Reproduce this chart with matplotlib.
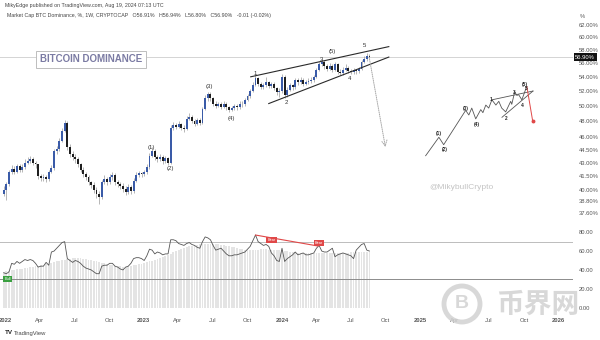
import numpy as np
import pandas as pd
import matplotlib
matplotlib.use('Agg')
import matplotlib.pyplot as plt
from matplotlib.patches import Ellipse
from matplotlib.ticker import NullLocator, FixedLocator, NullFormatter
import matplotlib.transforms as mtrans

plt.rcParams['font.family'] = ['Liberation Sans', 'DejaVu Sans']

# ---------------- data ----------------
start_date = '2021-12-27'   # first weekly candle (Monday)
first_open = 39.6
closes = [40.0, 40.6, 41.9, 42.3, 42.0, 42.6, 42.2, 42.5, 43.0, 43.2,
          43.4, 43.0, 42.8, 41.5, 41.3, 41.4, 41.2, 42.0, 42.4, 44.3,
          44.6, 45.6, 46.8, 47.8, 44.8, 44.0, 43.6, 43.4, 42.8, 42.2,
          41.7, 41.4, 40.8, 40.5, 40.0, 39.6, 39.3, 40.9, 41.2, 40.8,
          41.4, 41.6, 40.8, 40.6, 40.4, 40.1, 39.8, 40.3, 39.9, 41.0,
          41.6, 41.8, 41.7, 41.9, 42.5, 43.8, 44.4, 43.6, 43.4, 43.7,
          43.2, 43.5, 43.0, 47.2, 47.5, 47.3, 47.6, 47.2, 47.0, 48.3,
          48.6, 48.0, 47.7, 48.1, 47.8, 49.6, 51.0, 51.6, 51.0, 50.3,
          50.0, 50.2, 49.9, 50.3, 49.8, 49.5, 49.7, 50.0, 49.8, 50.3,
          50.2, 50.8, 51.3, 52.0, 52.9, 53.8, 53.0, 52.6, 52.8, 53.2,
          52.7, 53.0, 52.4, 51.8, 52.0, 54.0, 51.5, 52.2, 52.8, 52.5,
          53.5, 53.2, 53.5, 53.0, 53.3, 53.4, 53.6, 54.0, 55.0, 55.9,
          56.2, 55.6, 55.2, 55.5, 55.0, 55.8, 54.7, 54.5, 55.0, 55.3,
          54.9, 54.7, 55.0, 54.8, 55.1, 56.2, 56.6, 57.1, 56.9]
highs = [40.4, 40.9, 42.2, 42.7, 42.6, 42.9, 42.8, 42.8, 43.4, 43.7,
         43.8, 43.6, 43.2, 42.9, 41.7, 41.7, 41.6, 42.2, 42.7, 44.6,
         45.0, 45.9, 47.1, 48.1, 48.0, 45.2, 44.4, 44.0, 43.7, 43.0,
         42.5, 42.0, 41.6, 41.0, 40.8, 40.3, 39.9, 41.1, 41.6, 41.4,
         41.7, 42.0, 41.8, 41.1, 40.9, 40.7, 40.4, 40.6, 40.5, 41.3,
         41.9, 42.1, 42.0, 42.2, 42.8, 44.1, 44.8, 44.6, 43.9, 44.0,
         43.9, 43.8, 43.7, 47.5, 47.9, 47.8, 48.0, 47.8, 47.5, 48.7,
         49.0, 48.8, 48.3, 48.4, 48.4, 49.9, 51.5, 51.9, 51.8, 51.2,
         50.6, 50.5, 50.5, 50.6, 50.5, 50.0, 50.0, 50.3, 50.2, 50.6,
         50.6, 51.1, 51.6, 52.3, 53.2, 54.3, 54.0, 53.3, 53.1, 53.9,
         53.4, 53.3, 53.2, 52.6, 52.4, 54.4, 54.2, 52.5, 53.1, 53.0,
         53.8, 53.8, 53.9, 53.8, 53.6, 53.8, 54.0, 54.3, 55.3, 56.2,
         56.6, 56.4, 55.9, 56.0, 55.8, 56.1, 56.0, 55.1, 55.4, 55.8,
         55.5, 55.2, 55.3, 55.2, 55.4, 56.5, 57.0, 57.5, 57.3]
lows = [39.4, 38.9, 40.4, 41.7, 41.7, 41.8, 41.9, 42.0, 42.3, 42.8,
        43.0, 42.7, 42.4, 41.2, 41.0, 41.0, 40.9, 41.0, 41.8, 42.2,
        44.0, 44.4, 45.4, 46.6, 44.5, 43.7, 43.3, 43.0, 42.5, 41.9,
        41.4, 41.1, 40.5, 40.2, 39.7, 39.2, 38.5, 39.1, 40.6, 40.5,
        40.6, 41.1, 40.5, 40.3, 40.1, 39.8, 39.5, 39.6, 39.6, 39.7,
        40.8, 41.4, 41.4, 41.5, 41.7, 42.3, 43.6, 43.3, 43.1, 43.2,
        42.9, 43.0, 42.7, 42.9, 46.9, 47.0, 47.1, 46.9, 46.7, 46.9,
        48.1, 47.8, 47.4, 47.5, 47.5, 47.6, 49.4, 50.7, 50.7, 50.0,
        49.7, 49.8, 49.6, 49.7, 49.5, 49.2, 49.3, 49.5, 49.5, 49.6,
        49.9, 50.0, 50.6, 51.1, 51.8, 52.7, 52.7, 52.3, 52.3, 52.6,
        52.4, 52.4, 52.1, 51.4, 51.2, 51.7, 51.0, 51.2, 52.0, 52.2,
        52.3, 52.9, 53.0, 52.7, 52.8, 53.0, 53.1, 53.3, 53.8, 54.8,
        55.5, 55.2, 54.9, 55.0, 54.7, 54.8, 54.4, 54.2, 54.3, 54.8,
        54.6, 54.4, 54.4, 54.4, 54.6, 55.0, 56.0, 56.3, 56.8]
rsi = [37, 36, 38, 47, 46, 49, 47, 49, 51, 50,
       51, 50, 47, 43, 44, 44, 48, 45, 59, 60,
       63, 66, 69, 70, 52, 50, 48, 50, 49, 47,
       44, 42, 41, 40, 38, 36, 36, 44, 45, 45,
       47, 47, 44, 43, 41, 40, 43, 44, 47, 52,
       53, 53, 52, 50, 55, 62, 61, 57, 59, 58,
       56, 57, 57, 72, 72, 71, 68, 67, 66, 68,
       69, 67, 66, 64, 63, 70, 75, 74, 72, 66,
       61, 62, 63, 60, 57, 55, 55, 56, 56, 57,
       58, 59, 62, 65, 71, 77, 70, 68, 66, 67,
       65, 58, 55, 50, 49, 63, 49, 52, 54, 56,
       59, 56, 57, 58, 56, 56, 57, 58, 63, 66,
       60, 59, 59, 61, 63, 54, 56, 57, 58, 57,
       56, 55, 52, 61, 64, 67, 68, 61, 60]
rsi_ma = [38, 38.5, 39, 39.5, 40, 40.5, 41, 41.5, 42, 42.5,
          43, 43.5, 44, 44.5, 45, 45.5, 46, 46.5, 47, 48,
          49, 50, 50.5, 51, 51.5, 52, 52.3, 52.5, 52.5, 52.3,
          52, 51.5, 51, 50.5, 50, 49, 48, 47.5, 47, 46,
          45.5, 45, 44.5, 44, 44, 43.5, 43.5, 44, 44.5, 45,
          45.5, 46, 46.5, 47, 48, 49, 50, 51, 52, 53,
          54, 55, 56, 57, 58.5, 60, 61, 62, 63, 64,
          65, 65.5, 66, 66.5, 67, 67, 67.5, 67.5, 67.5, 67.5,
          67, 67, 66.5, 66, 65.5, 65, 64.5, 64, 63, 62.5,
          62, 61.5, 61, 61, 61, 61.5, 61.5, 62, 62, 62,
          61.5, 61.5, 61, 61, 61, 61, 60.5, 60, 59.5, 59,
          58.5, 58, 58, 57.5, 57.5, 57.5, 57.5, 57.5, 57.5, 57.5,
          57.5, 57.5, 57.5, 57.5, 57.5, 57.5, 58, 58, 58, 58,
          58, 58.5, 58.5, 58.5, 59, 59, 59, 59.5, 59.5]

last_price = 56.90
price_ticks = [62, 60, 58, 56, 54, 52, 50, 48, 46, 44.5, 43, 41.5, 40, 38.8, 37.6]
rsi_ticks = [80, 60, 40, 20, 0]
rsi_levels = [70, 30]
date_ticks = ['2022-01-01', '2022-04-01', '2022-07-01', '2022-10-01',
              '2023-01-01', '2023-04-01', '2023-07-01', '2023-10-01',
              '2024-01-01', '2024-04-01', '2024-07-01', '2024-10-01',
              '2025-01-01', '2025-04-01', '2025-07-01', '2025-10-01',
              '2026-01-01']
date_labels = ['2022', 'Apr', 'Jul', 'Oct', '2023', 'Apr', 'Jul', 'Oct',
               '2024', 'Apr', 'Jul', 'Oct', '2025', 'Apr', 'Jul', 'Oct', '2026']

# Elliott wave labels on the chart (week index, value)
wave_text = ['(1)', '(2)', '(3)', '(4)', '(5)', '1', '2', '3', '4', '5']
wave_weeks = [55.8, 62.8, 77.7, 85.7, 123.8, 95.0, 106.8, 120.0, 130.6, 136.2]
wave_vals = [44.8, 42.3, 52.6, 48.3, 57.7, 54.5, 50.4, 56.6, 53.8, 58.6]

# wedge trend lines (week index, value)
wedge_upper_weeks = [93.2, 145.3]
wedge_upper_vals = [54.0, 58.5]
wedge_lower_weeks = [100.0, 145.3]
wedge_lower_vals = [50.3, 56.9]
proj_weeks = [137.7, 144.2]
proj_vals = [57.3, 44.5]

# schematic (idealised wave count) on the right
sketch_weeks = [159.2, 164.2, 166.0, 174.3, 175.5, 176.6, 178.1, 180.0, 180.8,
                181.9, 183.0, 184.2, 185.7, 186.8, 187.9, 189.4, 191.3, 191.7,
                192.8, 193.6, 194.3, 195.5, 197.0, 197.4]
sketch_vals = [43.8, 46.0, 45.1, 49.4, 48.8, 49.7, 48.3, 49.5, 49.1,
               50.1, 49.7, 50.8, 50.1, 50.6, 49.7, 49.2, 50.6, 50.2,
               51.9, 51.4, 51.5, 50.8, 52.3, 52.6]
sketch_text = ['(1)', '(2)', '(3)', '(4)', '1', '2', '3', '4', '(5)', '5']
sketch_text_weeks = [164.2, 166.4, 174.3, 178.5, 183.8, 189.4, 192.5, 195.5, 196.6, 197.0]
sketch_text_vals = [46.5, 44.5, 49.7, 47.6, 50.9, 48.3, 51.8, 50.1, 52.9, 52.3]
sketch_up_weeks = [184.2, 199.7]
sketch_up_vals = [50.8, 52.0]
sketch_lo_weeks = [188.0, 199.7]
sketch_lo_vals = [48.5, 52.0]
sketch_drop_weeks = [197.4, 199.6]
sketch_drop_vals = [52.6, 48.0]

# RSI divergence
bear_weeks = [95.0, 118.5]
bear_vals = [77.0, 65.4]
bear_label_weeks = [101.0, 119.0]
bear_label_vals = [71.7, 68.9]
bull_week, bull_val = 1.5, 30.5

# ---------------- derived ----------------
start = pd.Timestamp(start_date)
n = len(closes)
wk = np.arange(n)
opens = [first_open] + closes[:-1]
o = np.array(opens); c = np.array(closes)
h = np.array(highs); l = np.array(lows)
up = c >= o

def week_of(d):
    return (pd.Timestamp(d) - start).days / 7.0

tick_pos = [week_of(d) for d in date_ticks]

W, H = 600, 340
fig = plt.figure(figsize=(6, 3.4), dpi=100)
fig.patch.set_facecolor('white')

xlim = (-1.4, 214.8)
ax1 = fig.add_axes([0, 1 - 222 / H, 573 / W, 222 / H])
ax2 = fig.add_axes([0, 1 - 312 / H, 573 / W, 88 / H], sharex=ax1)

# ---- price pane ----
ax1.set_yscale('log')
ax1.set_ylim(36.74, 66.2)
ax1.set_xlim(*xlim)
up_col, dn_col = '#3a5ba8', '#1f1f1f'
colors = np.where(up, up_col, dn_col)
ax1.vlines(wk, l, h, colors='#9a9a9a', lw=0.5, zorder=2)
body_lo = np.minimum(o, c)
body_h = np.maximum(np.abs(c - o), 0.1)
ax1.bar(wk, body_h, bottom=body_lo, width=0.72, color=colors, linewidth=0, zorder=3)

ax1.axhline(last_price, color='#d4d4d4', lw=0.7, zorder=1)

ax1.plot(wedge_upper_weeks, wedge_upper_vals, color='#2a2a2a', lw=0.8, zorder=4)
ax1.plot(wedge_lower_weeks, wedge_lower_vals, color='#2a2a2a', lw=0.8, zorder=4)
ax1.annotate('', xy=(proj_weeks[1], proj_vals[1]), xytext=(proj_weeks[0], proj_vals[0]),
             arrowprops=dict(arrowstyle='->', color='#a8a8a8', lw=0.7, ls=(0, (1, 1.2))),
             zorder=4)
for t, xw, yv in zip(wave_text, wave_weeks, wave_vals):
    ax1.text(xw, yv, t, fontsize=4.3, color='#333333', ha='center', va='center', zorder=5)

# schematic
ax1.plot(sketch_weeks, sketch_vals, color='#555555', lw=0.6, zorder=4)
ax1.plot(sketch_up_weeks, sketch_up_vals, color='#555555', lw=0.6, zorder=4)
ax1.plot(sketch_lo_weeks, sketch_lo_vals, color='#555555', lw=0.6, zorder=4)
ax1.plot(sketch_drop_weeks, sketch_drop_vals, color='#e04848', lw=0.7, zorder=4)
ax1.plot(sketch_drop_weeks[1:], sketch_drop_vals[1:], 'o', color='#e04848', ms=1.8, zorder=5)
for t, xw, yv in zip(sketch_text, sketch_text_weeks, sketch_text_vals):
    ax1.text(xw, yv, t, fontsize=3.4, color='#222222', ha='center', va='center',
             fontweight='bold', zorder=5)

ax1.yaxis.tick_right()
ax1.yaxis.set_major_locator(FixedLocator(price_ticks))
ax1.yaxis.set_minor_locator(NullLocator())
ax1.yaxis.set_minor_formatter(NullFormatter())
ax1.set_yticklabels([f'{v:.2f}%' for v in price_ticks])
ax1.tick_params(axis='y', length=0, pad=4, labelsize=4.2, labelcolor='#555555')
ax1.tick_params(axis='x', length=0, labelbottom=False)
for s in ax1.spines.values():
    s.set_visible(False)

trans = mtrans.blended_transform_factory(ax1.transAxes, ax1.transData)
ax1.text(1.004, last_price, f'{last_price:.2f}%', transform=trans, fontsize=4.2,
         color='white', ha='left', va='center', zorder=10,
         bbox=dict(boxstyle='square,pad=0.25', fc='#111111', ec='none'))
ax1.text(1.012, 63.3, '%', transform=trans, fontsize=4.2, color='#555555',
         ha='left', va='center')

# ---- RSI pane ----
ax2.set_ylim(-4.6, 88.7)
ax2.bar(wk, rsi_ma, width=0.7, color='#e4e4e4', linewidth=0, zorder=1)
ax2.plot(wk, rsi, color='#555555', lw=0.6, zorder=3)
ax2.axhline(rsi_levels[0], color='#bcbcbc', lw=0.7, zorder=2)
ax2.axhline(rsi_levels[1], color='#8c8c8c', lw=0.7, zorder=2)
ax2.plot(bear_weeks, bear_vals, color='#e04848', lw=0.8, zorder=4)
for xw, yv in zip(bear_label_weeks, bear_label_vals):
    ax2.text(xw, yv, 'Bear', fontsize=2.8, color='white', ha='center', va='center', zorder=6,
             bbox=dict(boxstyle='square,pad=0.3', fc='#e04848', ec='none'))
ax2.text(bull_week, bull_val, 'Bull', fontsize=2.8, color='white', ha='center', va='center',
         zorder=6, bbox=dict(boxstyle='square,pad=0.3', fc='#3aa040', ec='none'))

ax2.yaxis.tick_right()
ax2.set_yticks(rsi_ticks)
ax2.set_yticklabels([f'{v:.2f}' for v in rsi_ticks])
ax2.tick_params(axis='y', length=0, pad=4, labelsize=4.2, labelcolor='#555555')
ax2.set_xticks(tick_pos)
ax2.set_xticklabels(date_labels)
for lab in ax2.get_xticklabels():
    if lab.get_text().isdigit():
        lab.set_fontweight('bold')
        lab.set_color('#333333')
ax2.tick_params(axis='x', length=0, pad=4, labelsize=4.2, labelcolor='#555555')
for s in ax2.spines.values():
    s.set_visible(False)
ax2.set_xlim(*xlim)

# ---- header / overlays ----
fig.text(5 / W, 1 - 6 / H, 'MikyEdge published on TradingView.com, Aug 19, 2024 07:13 UTC',
         fontsize=3.8, color='#444444', ha='left', va='center')
fig.text(7 / W, 1 - 16 / H,
         'Market Cap BTC Dominance, %, 1W, CRYPTOCAP   O56.91%   H56.94%   L56.80%   C56.90%   -0.01 (-0.02%)',
         fontsize=3.8, color='#444444', ha='left', va='center')
fig.text(91 / W, 1 - 59.5 / H, 'BITCOIN DOMINANCE', fontsize=7, color='#7b7ba3',
         ha='center', va='center', fontweight='bold',
         bbox=dict(boxstyle='square,pad=0.35', fc='white', ec='#bdbdbd', lw=0.7))
fig.text(462 / W, 1 - 187 / H, '@MikybullCrypto', fontsize=6, color='#c4c4c4',
         ha='center', va='center')
fig.text(5 / W, 1 - 333 / H, 'TV', fontsize=4.5, color='#222222', fontweight='bold',
         ha='left', va='center')
fig.text(14 / W, 1 - 333 / H, 'TradingView', fontsize=4.2, color='#444444',
         ha='left', va='center')

# watermark
ring = Ellipse((462 / W, 1 - 304 / H), 36 / W, 36 / H, transform=fig.transFigure,
               fc='none', ec='#d2d2d2', lw=3.5, alpha=0.85)
fig.patches.append(ring)
fig.text(462 / W, 1 - 304 / H, 'B', fontsize=14, fontweight='bold', color='#d2d2d2',
         ha='center', va='center', alpha=0.85)
fig.text(538 / W, 1 - 305 / H, '币界网', fontsize=20, fontweight='bold', color='#d2d2d2',
         ha='center', va='center', alpha=0.85,
         family=['Noto Sans CJK SC', 'DejaVu Sans'])

fig.savefig('out.png', dpi=100, facecolor='white')
